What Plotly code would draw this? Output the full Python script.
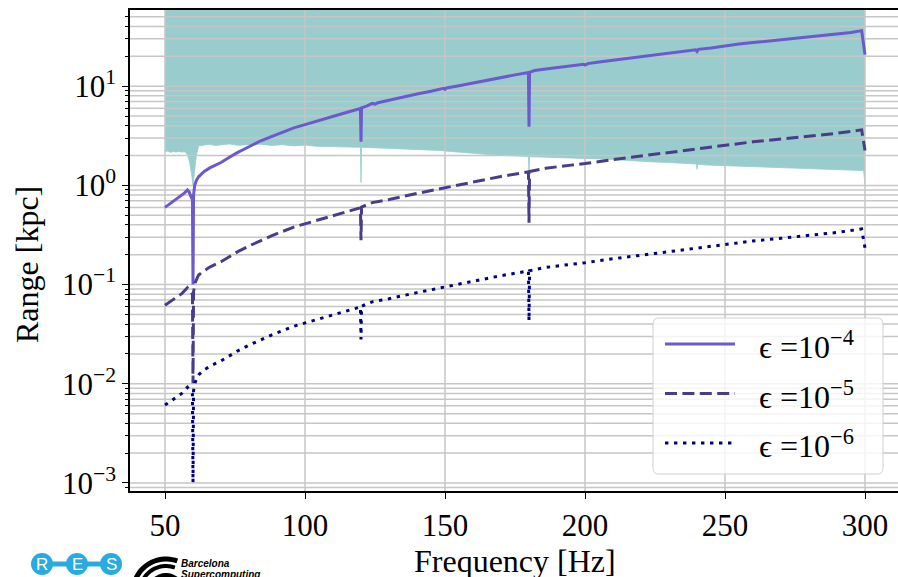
import math
import plotly.graph_objects as go

# ---------------- data ----------------
freq_band = [50, 51, 52, 53, 54, 55, 56, 57, 58, 58.8, 59.5, 60, 60.5, 61.2, 62, 64, 66, 68, 70,
             73, 76, 80, 84, 88, 92, 96, 100, 104, 108, 112, 116, 119.8, 120, 120.2, 124, 128,
             132, 136, 140, 144, 148, 152, 156, 160, 164, 168, 172, 176, 179.8, 180, 180.2, 184,
             188, 192, 196, 200, 205, 210, 215, 220, 225, 230, 235, 239.8, 240, 240.2, 245, 250,
             255, 260, 265, 270, 275, 280, 285, 290, 295, 299.5, 300]
band_low = [2.18, 2.22, 2.15, 2.2, 2.17, 2.21, 2.16, 2.19, 2.05, 1.7, 1.3, 1.0, 1.35, 2.0, 2.5,
            2.55, 2.6, 2.52, 2.57, 2.62, 2.54, 2.58, 2.6, 2.53, 2.57, 2.5, 2.55, 2.48, 2.47, 2.44,
            2.45, 2.42, 1.07, 2.42, 2.4, 2.38, 2.36, 2.33, 2.32, 2.3, 2.25, 2.2, 2.15, 2.1, 2.06,
            2.02, 2.0, 1.97, 1.95, 1.37, 1.94, 1.93, 1.92, 1.9, 1.88, 1.87, 1.85, 1.82, 1.78, 1.75,
            1.72, 1.7, 1.66, 1.64, 1.45, 1.63, 1.6, 1.58, 1.56, 1.55, 1.53, 1.51, 1.5, 1.48, 1.46,
            1.45, 1.43, 1.41, 1.02]
band_top = [100.0, 100.0]
band_top_freq = [50, 300]

freq_e4 = [50, 51, 52, 53, 54, 55, 56, 57, 58, 58.6, 59.2, 59.8, 60, 60.2, 60.6, 61.2, 62, 64,
           66, 68, 70, 73, 76, 80, 84, 88, 92, 96, 100, 104, 108, 110, 112, 116, 119.8, 120,
           120.2, 122, 124, 125, 126, 130, 135, 140, 145, 149.5, 150, 150.5, 155, 160, 165,
           170, 175, 179.8, 180, 180.2, 182, 186, 190, 195, 199.5, 200, 201, 205, 210, 215,
           220, 225, 230, 235, 239.5, 240, 240.5, 245, 250, 255, 260, 265, 270, 275, 280, 285,
           290, 295, 298.8, 300]
range_e4 = [0.60, 0.63, 0.66, 0.69, 0.72, 0.75, 0.79, 0.84, 0.90, 0.86, 0.78, 0.72, 0.10, 0.80,
            1.0, 1.12, 1.22, 1.38, 1.5, 1.6, 1.7, 1.92, 2.15, 2.45, 2.8, 3.1, 3.45, 3.8, 4.1,
            4.45, 4.8, 5.0, 5.15, 5.55, 5.95, 2.75, 6.05, 6.3, 6.7, 6.6, 6.8, 7.2, 7.8, 8.35,
            8.9, 9.5, 9.3, 9.6, 10.1, 10.8, 11.5, 12.3, 13.0, 13.7, 3.9, 13.8, 14.4, 14.9, 15.4,
            16.0, 16.6, 16.3, 16.9, 17.5, 18.2, 19.0, 19.8, 20.6, 21.6, 22.5, 23.3, 22.4, 23.5,
            24.3, 25.6, 26.6, 27.5, 28.4, 29.3, 30.3, 31.3, 32.4, 33.5, 34.8, 36.3, 20.8]

freq_e5 = [50, 52, 54, 56, 58, 59, 59.8, 60, 60.2, 60.8, 62, 64, 66, 70, 76, 80, 88, 96, 100,
           108, 116, 119.8, 120, 120.2, 124, 130, 140, 150, 160, 170, 179.8, 180, 180.2, 186,
           195, 200, 210, 220, 230, 240, 250, 260, 270, 280, 290, 298.8, 300]
range_e5 = [0.062, 0.068, 0.074, 0.081, 0.093, 0.085, 0.080, 0.0101, 0.085, 0.105, 0.125,
            0.138, 0.15, 0.17, 0.215, 0.245, 0.31, 0.38, 0.41, 0.48, 0.555, 0.595, 0.28, 0.605,
            0.67, 0.72, 0.83, 0.95, 1.08, 1.23, 1.37, 0.42, 1.38, 1.49, 1.6, 1.66, 1.82, 1.98,
            2.16, 2.32, 2.56, 2.75, 2.93, 3.13, 3.35, 3.63, 2.25]

freq_e6 = [50, 52, 54, 56, 58, 59, 59.8, 60, 60.2, 60.8, 62, 64, 66, 70, 76, 80, 88, 96, 100,
           108, 116, 119.8, 120, 120.2, 124, 130, 140, 150, 160, 170, 179.8, 180, 180.2, 186,
           195, 200, 210, 220, 230, 240, 250, 260, 270, 280, 290, 298.8, 300]
range_e6 = [0.0061, 0.0067, 0.0073, 0.0080, 0.0092, 0.0085, 0.0079, 0.00101, 0.0085, 0.0104,
            0.0123, 0.0138, 0.015, 0.017, 0.0215, 0.0245, 0.031, 0.038, 0.041, 0.048, 0.0555,
            0.0595, 0.028, 0.0605, 0.067, 0.072, 0.083, 0.095, 0.108, 0.123, 0.137, 0.043,
            0.138, 0.149, 0.16, 0.166, 0.182, 0.198, 0.216, 0.232, 0.256, 0.275, 0.293, 0.313,
            0.335, 0.363, 0.234]

x_ticks = [50, 100, 150, 200, 250, 300]
y_ticks = [1e-3, 1e-2, 1e-1, 1, 10]
y_tick_labels = ["10<sup>−3</sup>", "10<sup>−2</sup>", "10<sup>−1</sup>",
                 "10<sup>0</sup>", "10<sup>1</sup>"]
legend_labels = ["ϵ =10<sup>−4</sup>", "ϵ =10<sup>−5</sup>", "ϵ =10<sup>−6</sup>"]
x_title = "Frequency [Hz]"
y_title = "Range [kpc]"

# ---------------- styling / layout ----------------
W, H = 898, 577
L, R, T, B = 130, 898, 10, 491
X_RANGE = [37.5, 37.5 + (R - L) / 2.8]
Y_RANGE = [-3.081, 1.768]

C_SOLID = "#6a5acd"
C_DASH = "#483d8b"
C_DOT = "#000080"
C_BAND = "#99cccc"
C_GRID = "#c6c6c6"
DASH = "12px,5.4px"
DOT = "3.4px,5.6px"
SERIF = "Liberation Serif, Times New Roman, serif"
SANS = "Liberation Sans, Arial, sans-serif"


def px(x):
    return (x - L) / (R - L)


def py(y):
    return (B - y) / (B - T)


# minor y ticks 2..9 x 10^n inside range
y_minor = []
for n in range(-4, 2):
    for m in range(2, 10):
        v = m * 10 ** n
        if Y_RANGE[0] <= math.log10(v) <= Y_RANGE[1]:
            y_minor.append(v)

# grid lines (drawn as a trace so they sit above the band but below the curves)
gx, gy = [], []
for v in y_ticks + y_minor:
    gx += [X_RANGE[0], X_RANGE[1], None]
    gy += [v, v, None]
for v in x_ticks:
    gx += [v, v, None]
    gy += [1e-4, 1e2, None]

fig = go.Figure()
fig.add_trace(go.Scatter(x=band_top_freq, y=band_top, mode="lines",
                         line=dict(width=0, color=C_BAND), showlegend=False, hoverinfo="skip"))
fig.add_trace(go.Scatter(x=freq_band, y=band_low, mode="lines", fill="tonexty",
                         fillcolor=C_BAND, line=dict(width=0.8, color=C_BAND),
                         showlegend=False, hoverinfo="skip"))
fig.add_trace(go.Scatter(x=gx, y=gy, mode="lines", line=dict(width=1.5, color=C_GRID),
                         showlegend=False, hoverinfo="skip"))
fig.add_trace(go.Scatter(x=freq_e4, y=range_e4, mode="lines", name="1e-4",
                         line=dict(color=C_SOLID, width=3), showlegend=False))
fig.add_trace(go.Scatter(x=freq_e5, y=range_e5, mode="lines", name="1e-5",
                         line=dict(color=C_DASH, width=3, dash=DASH), showlegend=False))
fig.add_trace(go.Scatter(x=freq_e6, y=range_e6, mode="lines", name="1e-6",
                         line=dict(color=C_DOT, width=3, dash=DOT), showlegend=False))

shapes = []
annotations = []

# legend box (rounded)
x0, x1, y0, y1 = px(653), px(883), py(474), py(318)
rx, ry = 6 / (R - L), 6 / (B - T)
path = (f"M{x0+rx},{y0} L{x1-rx},{y0} Q{x1},{y0} {x1},{y0+ry} L{x1},{y1-ry} "
        f"Q{x1},{y1} {x1-rx},{y1} L{x0+rx},{y1} Q{x0},{y1} {x0},{y1-ry} "
        f"L{x0},{y0+ry} Q{x0},{y0} {x0+rx},{y0} Z")
shapes.append(dict(type="path", path=path, xref="paper", yref="paper",
                   fillcolor="rgba(255,255,255,0.8)", line=dict(color="#d0d0d0", width=1),
                   layer="above"))
for i, (col, dash) in enumerate([(C_SOLID, "solid"), (C_DASH, DASH), (C_DOT, DOT)]):
    yy = 344 + i * 49.5
    shapes.append(dict(type="line", xref="paper", yref="paper", x0=px(665), x1=px(735),
                       y0=py(yy), y1=py(yy), line=dict(color=col, width=3, dash=dash),
                       layer="above"))
    annotations.append(dict(text=legend_labels[i], xref="paper", yref="paper",
                            x=px(757), y=py(yy + 1), xanchor="left", yanchor="middle",
                            showarrow=False, font=dict(family=SERIF, size=32, color="black")))

# axis titles
annotations.append(dict(text=x_title, xref="paper", yref="paper", x=px(515), y=py(561),
                        xanchor="center", yanchor="middle", showarrow=False,
                        font=dict(family=SERIF, size=32, color="black")))
annotations.append(dict(text=y_title, xref="paper", yref="paper", x=px(27), y=py(265),
                        xanchor="center", yanchor="middle", showarrow=False, textangle=-90,
                        font=dict(family=SERIF, size=32, color="black")))

# logos (bottom-left)
RES_BLUE = "#29abe2"
for cx in (42, 77, 111):
    shapes.append(dict(type="circle", xref="paper", yref="paper", x0=px(cx - 11), x1=px(cx + 11),
                       y0=py(575), y1=py(553), fillcolor=RES_BLUE, line=dict(width=0),
                       layer="above"))
for a, b in ((52, 67), (87, 101)):
    shapes.append(dict(type="rect", xref="paper", yref="paper", x0=px(a), x1=px(b),
                       y0=py(566.5), y1=py(561.5), fillcolor=RES_BLUE, line=dict(width=0),
                       layer="above"))
for cx, ch in ((42, "R"), (77, "E"), (111, "S")):
    annotations.append(dict(text=ch, xref="paper", yref="paper", x=px(cx), y=py(564.5),
                            xanchor="center", yanchor="middle", showarrow=False,
                            font=dict(family=SANS, size=17, color="white")))

bcx, bcy = 166, 592
for r, w in ((33, 5), (26, 4)):
    pts = []
    for k in range(0, 25):
        ang = math.radians(180 - k * 110 / 24)
        pts.append((bcx + r * math.cos(ang), bcy - r * math.sin(ang)))
    p = "M" + " L".join(f"{px(a)},{py(b)}" for a, b in pts)
    shapes.append(dict(type="path", path=p, xref="paper", yref="paper",
                       line=dict(color="black", width=w), layer="above"))
shapes.append(dict(type="circle", xref="paper", yref="paper", x0=px(bcx - 19), x1=px(bcx + 19),
                   y0=py(bcy + 19), y1=py(bcy - 19), fillcolor="black", line=dict(width=0),
                   layer="above"))
annotations.append(dict(text="<b>bsc</b>", xref="paper", yref="paper", x=px(160), y=py(581),
                        xanchor="center", yanchor="middle", showarrow=False,
                        font=dict(family=SANS, size=11, color="white")))
annotations.append(dict(text="<b><i>Barcelona</i></b>", xref="paper", yref="paper",
                        x=px(179), y=py(563), xanchor="left", yanchor="middle",
                        showarrow=False, font=dict(family=SANS, size=10, color="black")))
annotations.append(dict(text="<b><i>Supercomputing</i></b>", xref="paper", yref="paper",
                        x=px(179), y=py(574), xanchor="left", yanchor="middle",
                        showarrow=False, font=dict(family=SANS, size=10, color="black")))

fig.update_layout(
    width=W, height=H, autosize=False,
    margin=dict(l=L, r=W - R, t=T, b=H - B, pad=0),
    paper_bgcolor="white", plot_bgcolor="white",
    shapes=shapes, annotations=annotations, showlegend=False,
    xaxis=dict(range=X_RANGE, tickvals=x_ticks, ticktext=[str(v) for v in x_ticks],
               showgrid=False, zeroline=False, showline=True, linecolor="black",
               linewidth=1.6, mirror=True, ticks="outside", ticklen=6, tickwidth=1.4,
               tickcolor="black", tickfont=dict(family=SERIF, size=31, color="black"),
               fixedrange=True),
    yaxis=dict(type="log", range=Y_RANGE, tickvals=y_ticks, ticktext=y_tick_labels,
               showgrid=False, zeroline=False, showline=True, linecolor="black",
               linewidth=1.6, ticks="outside", ticklen=6, tickwidth=1.4, tickcolor="black",
               tickfont=dict(family=SERIF, size=31, color="black"),
               minor=dict(tickvals=y_minor, ticks="outside", ticklen=3.5, tickwidth=1.1,
                          tickcolor="black", showgrid=False),
               fixedrange=True),
)

fig.write_html("out.html", config={"displayModeBar": False})
